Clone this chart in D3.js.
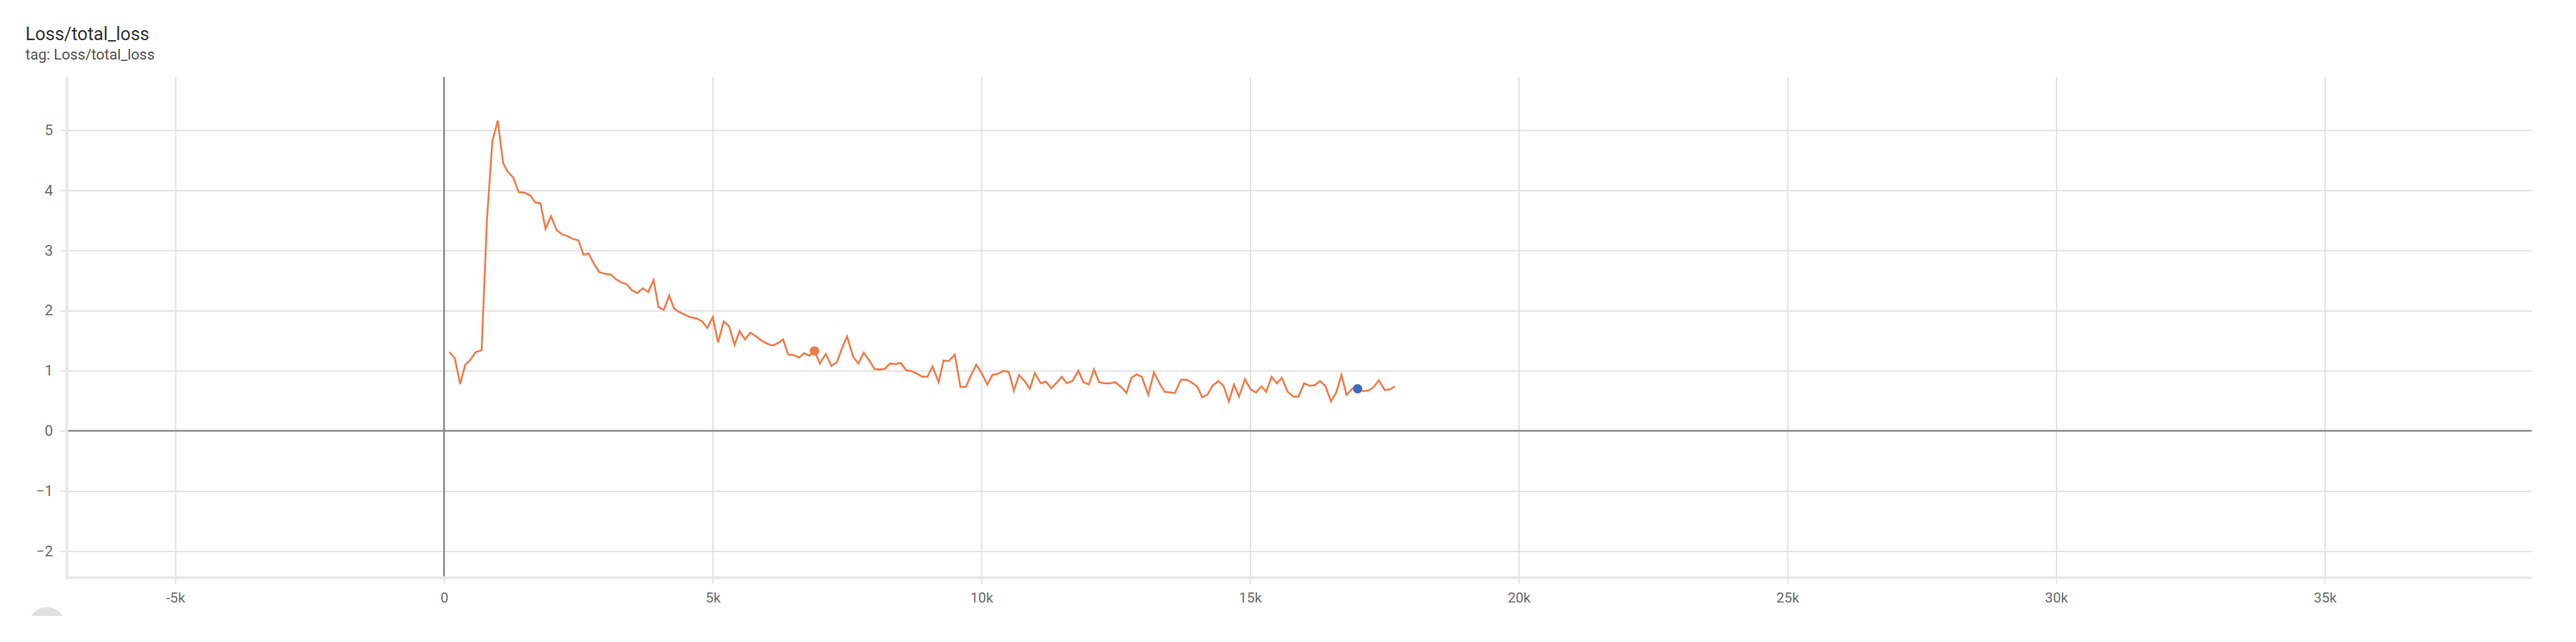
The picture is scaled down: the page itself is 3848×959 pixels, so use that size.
<!DOCTYPE html>
<html>
<head>
<meta charset="utf-8">
<script src="https://cdn.jsdelivr.net/npm/d3@7"></script>
<style>
  body { margin: 0; background: #fff; font-family: Roboto, "Noto Sans", sans-serif; }
  .grid line { stroke: #e1e1e1; stroke-width: 2; }
  .tick text { fill: #6b6b6b; }
</style>
</head>
<body>
<script>
// steps and loss values
var steps = [100, 200, 300, 395, 480, 590, 700, 800, 900, 1000,
  1100, 1185, 1290, 1390, 1495, 1600, 1695, 1795, 1890, 1990,
  2095, 2190, 2290, 2400, 2500, 2595, 2690, 2790, 2890, 3000,
  3105, 3200, 3300, 3395, 3495, 3595, 3700, 3800, 3900, 3990,
  4090, 4190, 4285, 4390, 4485, 4585, 4700, 4805, 4900, 5000,
  5100, 5205, 5305, 5405, 5500, 5600, 5700, 5810, 5910, 6015,
  6115, 6215, 6310, 6405, 6505, 6605, 6700, 6800, 6895, 6995,
  7105, 7210, 7310, 7405, 7500, 7610, 7710, 7810, 7915, 8010,
  8105, 8200, 8300, 8395, 8500, 8600, 8710, 8805, 8900, 8995,
  9090, 9205, 9295, 9395, 9505, 9610, 9710, 9805, 9905, 10000,
  10110, 10205, 10310, 10410, 10510, 10605, 10700, 10805, 10900, 10995,
  11105, 11200, 11300, 11400, 11495, 11590, 11695, 11805, 11900, 12000,
  12095, 12190, 12290, 12395, 12490, 12600, 12700, 12790, 12890, 12985,
  13105, 13210, 13315, 13410, 13505, 13600, 13715, 13825, 13920, 14015,
  14110, 14205, 14300, 14410, 14505, 14605, 14700, 14795, 14905, 15010,
  15110, 15210, 15300, 15400, 15495, 15590, 15700, 15805, 15900, 16005,
  16110, 16205, 16300, 16400, 16505, 16600, 16700, 16795, 16900, 17000,
  17100, 17205, 17300, 17395, 17505, 17605, 17695];

var losses = [1.31, 1.21, 0.78, 1.10, 1.17, 1.31, 1.34, 3.53, 4.82, 5.16,
  4.45, 4.31, 4.21, 3.97, 3.96, 3.92, 3.80, 3.78, 3.36, 3.57,
  3.34, 3.27, 3.24, 3.19, 3.17, 2.93, 2.95, 2.78, 2.64, 2.61,
  2.60, 2.52, 2.47, 2.44, 2.34, 2.29, 2.37, 2.31, 2.51, 2.06,
  2.01, 2.25, 2.03, 1.97, 1.93, 1.89, 1.87, 1.82, 1.71, 1.89,
  1.47, 1.82, 1.74, 1.43, 1.66, 1.52, 1.63, 1.57, 1.50, 1.45,
  1.42, 1.46, 1.52, 1.27, 1.26, 1.22, 1.29, 1.25, 1.33, 1.12,
  1.28, 1.08, 1.14, 1.37, 1.57, 1.24, 1.12, 1.30, 1.17, 1.03,
  1.02, 1.03, 1.12, 1.11, 1.13, 1.01, 0.99, 0.95, 0.90, 0.90,
  1.07, 0.81, 1.17, 1.16, 1.27, 0.73, 0.73, 0.92, 1.10, 0.97,
  0.77, 0.93, 0.95, 1.00, 0.98, 0.67, 0.93, 0.83, 0.70, 0.96,
  0.79, 0.82, 0.71, 0.80, 0.90, 0.79, 0.83, 1.00, 0.81, 0.77,
  1.02, 0.81, 0.79, 0.79, 0.81, 0.73, 0.63, 0.88, 0.94, 0.90,
  0.60, 0.97, 0.79, 0.65, 0.64, 0.63, 0.85, 0.85, 0.80, 0.74,
  0.56, 0.60, 0.75, 0.83, 0.75, 0.49, 0.77, 0.57, 0.86, 0.69,
  0.64, 0.74, 0.65, 0.90, 0.79, 0.88, 0.65, 0.57, 0.57, 0.79,
  0.75, 0.76, 0.83, 0.75, 0.49, 0.63, 0.93, 0.60, 0.70, 0.70,
  0.66, 0.67, 0.73, 0.84, 0.68, 0.69, 0.74];

// highlighted points (orange + blue markers)
var markerSteps = [6895, 17000];
var markerValues = [1.33, 0.70];
var markerColors = ["#f07a48", "#3b6cc2"];

// ticks
var xTicks = [-5000, 0, 5000, 10000, 15000, 20000, 25000, 30000, 35000];
var xTickLabels = ["-5k", "0", "5k", "10k", "15k", "20k", "25k", "30k", "35k"];
var yTicks = [-2, -1, 0, 1, 2, 3, 4, 5];

var title = "Loss/total_loss";
var subtitle = "tag: Loss/total_loss";

var W = 3848, H = 959;
var plot = {left: 100, right: 3782, top: 115, bottom: 863};

var data = steps.map(function(s, i) { return {step: s, value: losses[i]}; });

var x = d3.scaleLinear().domain([-7017, 38851]).range([plot.left, plot.right]);
var y = d3.scaleLinear().domain([-2.442, 5.884]).range([plot.bottom, plot.top]);

var svg = d3.select("body").append("svg")
    .attr("width", W)
    .attr("height", H);

// title block
svg.append("text")
    .attr("x", 38).attr("y", 60)
    .attr("font-size", 27)
    .attr("fill", "#333")
    .text(title);
svg.append("text")
    .attr("x", 38).attr("y", 89)
    .attr("font-size", 22)
    .attr("fill", "#555")
    .text(subtitle);

// horizontal grid + y labels
var yAxis = svg.append("g")
    .attr("class", "grid")
    .attr("transform", "translate(90,0)")
    .call(d3.axisLeft(y).tickValues(yTicks).tickSize(-(plot.right - 90)).tickPadding(11));
yAxis.select(".domain").remove();
yAxis.selectAll("text").attr("font-size", 22).attr("font-family", "Roboto");

// vertical grid + x labels
var xAxis = svg.append("g")
    .attr("class", "grid")
    .attr("transform", "translate(0,872)")
    .call(d3.axisBottom(x).tickValues(xTicks)
      .tickFormat(function(d, i) { return xTickLabels[i]; })
      .tickSize(-(872 - plot.top)).tickPadding(13));
xAxis.select(".domain").remove();
xAxis.selectAll("text").attr("font-size", 21).attr("font-family", "Roboto");

// zero lines
svg.append("line")
    .attr("x1", plot.left).attr("x2", plot.right)
    .attr("y1", y(0)).attr("y2", y(0))
    .attr("stroke", "#8a8a8a").attr("stroke-width", 2.5);
svg.append("line")
    .attr("x1", x(0)).attr("x2", x(0))
    .attr("y1", plot.top).attr("y2", plot.bottom)
    .attr("stroke", "#8a8a8a").attr("stroke-width", 2.5);

// plot frame (left + bottom)
svg.append("path")
    .attr("d", "M" + plot.left + "," + plot.top + "V" + plot.bottom + "H" + plot.right)
    .attr("fill", "none")
    .attr("stroke", "#e8e8e8")
    .attr("stroke-width", 4);

// the loss line
var line = d3.line()
    .x(function(d) { return x(d.step); })
    .y(function(d) { return y(d.value); });

svg.append("path")
    .datum(data)
    .attr("fill", "none")
    .attr("stroke", "#f47b48")
    .attr("stroke-width", 2.8)
    .attr("stroke-linejoin", "miter")
    .attr("d", line);

svg.selectAll(".marker")
    .data(markerSteps)
    .enter().append("circle")
    .attr("class", "marker")
    .attr("cx", function(d) { return x(d); })
    .attr("cy", function(d, i) { return y(markerValues[i]); })
    .attr("r", 7)
    .attr("fill", function(d, i) { return markerColors[i]; });

// half-hidden grey button at bottom left
svg.append("clipPath").attr("id", "btnclip")
  .append("rect").attr("x", 0).attr("y", 0).attr("width", 200).attr("height", 920);
svg.append("circle")
    .attr("cx", 70).attr("cy", 935).attr("r", 28)
    .attr("fill", "#e0e0e0")
    .attr("clip-path", "url(#btnclip)");
</script>
</body>
</html>
